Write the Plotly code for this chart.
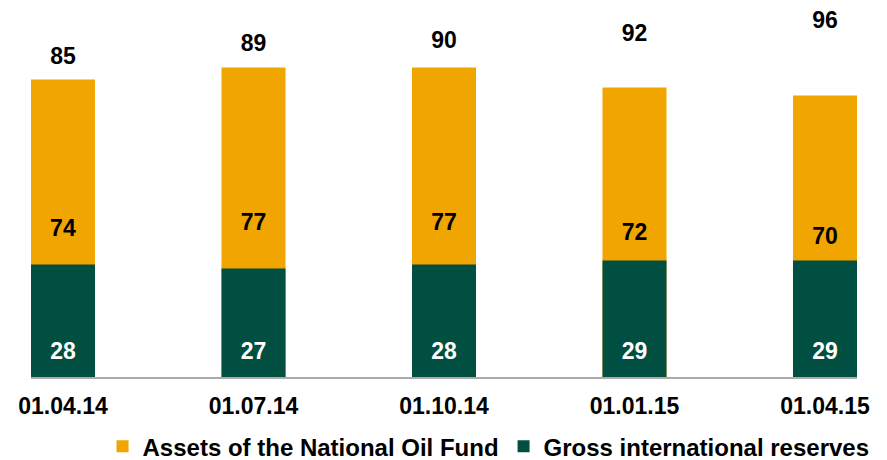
import plotly.graph_objects as go

# ---- data ----
dates = ["01.04.14", "01.07.14", "01.10.14", "01.01.15", "01.04.15"]
oil_fund = [74, 77, 77, 72, 70]          # Assets of the National Oil Fund
reserves = [28, 27, 28, 29, 29]          # Gross international reserves
top_values = [85, 89, 90, 92, 96]        # values shown above the bars

ORANGE = "#F0A500"
GREEN = "#004F40"
FONT = "Liberation Sans, Arial, sans-serif"
FS = 23

PLOT_H = 367          # plot area height in px
PX_PER_UNIT = 4.02    # primary axis scale
Y2_RANGE = [-11.0, 99.6]  # secondary axis range for the top labels
LABEL_LEVEL = 6       # height of the white labels inside the green bars

fig = go.Figure()
fig.add_bar(
    x=dates, y=oil_fund, name="Assets of the National Oil Fund",
    marker=dict(color=ORANGE, line_width=0),
    text=oil_fund, textposition="inside", insidetextanchor="middle", textangle=0,
    textfont=dict(color="black", size=FS, family=FONT, weight="bold"),
    hoverinfo="skip",
)
fig.add_bar(
    x=dates, y=reserves, name="Gross international reserves",
    marker=dict(color=GREEN, line_width=0),
    hoverinfo="skip",
)
fig.add_scatter(
    x=dates, y=[LABEL_LEVEL] * len(dates), mode="text", text=reserves,
    textposition="middle center",
    textfont=dict(color="white", size=FS, family=FONT, weight="bold"),
    showlegend=False, cliponaxis=False, hoverinfo="skip",
)
fig.add_scatter(
    x=dates, y=top_values, yaxis="y2", mode="text", text=top_values,
    textposition="middle center",
    textfont=dict(color="black", size=FS, family=FONT, weight="bold"),
    showlegend=False, cliponaxis=False, hoverinfo="skip",
)

fig.update_layout(
    width=887, height=460,
    margin=dict(l=23, r=38, t=2, b=91, autoexpand=False),
    plot_bgcolor="white", paper_bgcolor="white",
    barmode="overlay", bargap=0.664,
    xaxis=dict(range=[-0.168, 4.168], showline=True, linecolor="#ababab", linewidth=2,
               ticks="", showgrid=False, zeroline=False, automargin=False,
               ticklabelstandoff=7,
               tickfont=dict(size=FS, color="black", family=FONT, weight="bold")),
    yaxis=dict(range=[0, PLOT_H / PX_PER_UNIT], visible=False, automargin=False),
    yaxis2=dict(range=Y2_RANGE, overlaying="y", visible=False, automargin=False),
    legend=dict(orientation="h", x=0.0866, xanchor="left", y=-0.19, yanchor="middle",
                font=dict(size=24, color="black", family=FONT, weight="bold"),
                traceorder="normal", bgcolor="rgba(0,0,0,0)"),
    showlegend=True,
)

fig.write_html("out.html")
